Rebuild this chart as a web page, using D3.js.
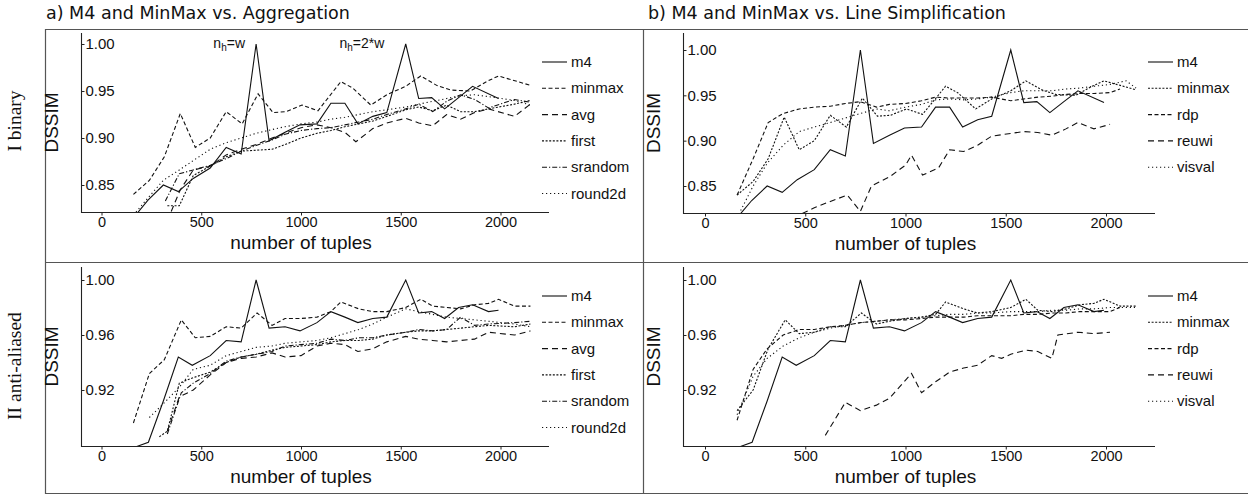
<html>
<head>
  <script src="https://d3js.org/d3.v7.min.js"></script>
  <style>
    body { margin: 0; background: #fff; }
    text { font-family: "Liberation Sans", Arial, sans-serif; fill: #111; }
  </style>
</head>
<body>
<script>

// ---- data ([tuples, DSSIM]) ----
var xTicks = [0, 500, 1000, 1500, 2000];
var yTicksTop = [0.85, 0.90, 0.95, 1.00];
var yTicksBot = [0.92, 0.96, 1.00];

var m4Top = [[160,0.815],[233,0.834],[310,0.850],[385,0.843],[460,0.857],[545,0.868],[625,0.890],[700,0.883],[775,1.000],[840,0.897],[920,0.906],[995,0.914],[1080,0.915],[1150,0.937],[1220,0.937],[1285,0.915],[1360,0.923],[1430,0.927],[1525,1.000],[1590,0.942],[1655,0.943],[1720,0.931],[1790,0.943],[1860,0.955],[1990,0.942]];
var minmaxTop = [[160,0.840],[240,0.855],[315,0.880],[395,0.926],[470,0.890],[545,0.900],[625,0.928],[705,0.915],[785,0.947],[860,0.927],[925,0.928],[1005,0.935],[1085,0.929],[1200,0.960],[1260,0.953],[1350,0.935],[1430,0.946],[1525,0.955],[1600,0.966],[1680,0.956],[1750,0.951],[1850,0.950],[1930,0.960],[1990,0.966],[2150,0.956]];
var avgTop = [[330,0.812],[395,0.845],[460,0.866],[545,0.870],[625,0.882],[700,0.888],[775,0.893],[855,0.900],[920,0.905],[1000,0.911],[1080,0.914],[1150,0.911],[1220,0.906],[1275,0.896],[1360,0.910],[1430,0.916],[1525,0.921],[1590,0.916],[1660,0.913],[1730,0.925],[1800,0.920],[1870,0.927],[1940,0.931],[2070,0.923],[2150,0.936]];
var firstTop = [[330,0.828],[390,0.828],[460,0.860],[545,0.870],[625,0.880],[700,0.886],[775,0.887],[855,0.888],[920,0.893],[1000,0.900],[1080,0.905],[1150,0.908],[1220,0.912],[1290,0.915],[1360,0.918],[1430,0.923],[1525,0.930],[1590,0.933],[1660,0.929],[1730,0.935],[1800,0.928],[1870,0.928],[1940,0.931],[2070,0.936],[2150,0.940]];
var srandomTop = [[320,0.833],[390,0.862],[460,0.866],[545,0.871],[625,0.878],[700,0.886],[775,0.892],[855,0.898],[920,0.904],[1000,0.908],[1080,0.910],[1150,0.911],[1220,0.914],[1290,0.917],[1360,0.920],[1430,0.925],[1525,0.931],[1590,0.936],[1660,0.928],[1730,0.939],[1800,0.946],[1870,0.941],[1940,0.932],[2070,0.941],[2150,0.938]];
var round2dTop = [[160,0.818],[240,0.838],[310,0.855],[390,0.866],[460,0.876],[545,0.888],[625,0.895],[700,0.900],[775,0.905],[855,0.909],[920,0.912],[1000,0.915],[1080,0.917],[1150,0.920],[1220,0.922],[1290,0.925],[1360,0.928],[1430,0.930],[1525,0.933],[1590,0.936],[1660,0.939],[1730,0.942],[1800,0.945],[1870,0.946],[1940,0.944],[2070,0.940],[2150,0.935]];
var rdpTop = [[160,0.840],[240,0.880],[315,0.920],[390,0.930],[470,0.935],[545,0.937],[625,0.938],[700,0.941],[775,0.943],[855,0.937],[920,0.940],[1000,0.941],[1080,0.944],[1150,0.948],[1220,0.947],[1290,0.947],[1360,0.947],[1430,0.948],[1525,0.944],[1590,0.946],[1660,0.948],[1730,0.949],[1800,0.951],[1870,0.952],[1940,0.952],[2020,0.953],[2070,0.957]];
var reuwiTop = [[440,0.815],[545,0.826],[625,0.833],[710,0.840],[775,0.822],[830,0.850],[920,0.860],[1000,0.873],[1030,0.884],[1085,0.862],[1165,0.870],[1220,0.890],[1290,0.888],[1360,0.895],[1430,0.905],[1525,0.908],[1590,0.910],[1660,0.909],[1730,0.906],[1800,0.913],[1860,0.920],[1940,0.913],[2020,0.918]];
var visvalTop = [[160,0.815],[240,0.850],[310,0.875],[390,0.895],[470,0.910],[545,0.915],[625,0.920],[700,0.925],[775,0.930],[855,0.935],[920,0.933],[1000,0.937],[1080,0.940],[1150,0.945],[1220,0.946],[1290,0.945],[1360,0.946],[1430,0.948],[1525,0.953],[1590,0.955],[1660,0.955],[1730,0.955],[1800,0.957],[1870,0.958],[1940,0.960],[2020,0.962],[2100,0.966],[2150,0.958]];

var m4Bot = [[160,0.878],[235,0.882],[310,0.912],[385,0.944],[455,0.938],[545,0.945],[625,0.956],[700,0.955],[775,1.000],[840,0.965],[920,0.966],[995,0.963],[1080,0.969],[1150,0.977],[1220,0.973],[1285,0.969],[1360,0.972],[1430,0.973],[1525,1.000],[1590,0.976],[1655,0.977],[1720,0.972],[1790,0.980],[1860,0.982],[1940,0.977],[1990,0.978]];
var minmaxBot = [[160,0.896],[240,0.932],[315,0.942],[400,0.971],[470,0.958],[545,0.959],[625,0.966],[700,0.965],[780,0.976],[855,0.967],[920,0.972],[1000,0.972],[1080,0.973],[1150,0.977],[1200,0.984],[1290,0.979],[1360,0.977],[1430,0.977],[1525,0.980],[1600,0.986],[1660,0.981],[1730,0.980],[1800,0.979],[1870,0.982],[1940,0.983],[1990,0.986],[2070,0.981],[2150,0.981]];
var avgBot = [[330,0.890],[390,0.915],[460,0.920],[545,0.931],[625,0.940],[700,0.943],[775,0.944],[855,0.947],[920,0.944],[1000,0.945],[1080,0.952],[1150,0.954],[1220,0.953],[1285,0.948],[1360,0.950],[1430,0.955],[1525,0.959],[1590,0.957],[1660,0.956],[1730,0.955],[1800,0.956],[1870,0.957],[1940,0.962],[2070,0.960],[2150,0.963]];
var firstBot = [[290,0.886],[330,0.890],[390,0.925],[460,0.929],[545,0.933],[625,0.940],[700,0.944],[775,0.946],[855,0.949],[920,0.951],[1000,0.952],[1080,0.953],[1150,0.955],[1220,0.956],[1290,0.956],[1360,0.957],[1430,0.960],[1525,0.962],[1590,0.963],[1660,0.963],[1730,0.964],[1800,0.965],[1870,0.966],[1940,0.967],[2070,0.966],[2150,0.968]];
var srandomBot = [[330,0.888],[400,0.918],[460,0.925],[545,0.932],[625,0.941],[700,0.944],[775,0.946],[855,0.948],[920,0.952],[1000,0.953],[1080,0.954],[1150,0.957],[1220,0.956],[1290,0.958],[1360,0.958],[1430,0.960],[1525,0.962],[1590,0.964],[1660,0.963],[1730,0.964],[1800,0.973],[1870,0.967],[1940,0.968],[2070,0.969],[2150,0.970]];
var round2dBot = [[240,0.900],[310,0.910],[390,0.922],[460,0.935],[545,0.938],[625,0.945],[700,0.948],[775,0.951],[855,0.952],[920,0.954],[1000,0.955],[1080,0.956],[1150,0.958],[1220,0.961],[1290,0.964],[1360,0.968],[1430,0.973],[1525,0.979],[1590,0.977],[1660,0.975],[1730,0.973],[1800,0.972],[1870,0.971],[1940,0.970],[2070,0.968],[2150,0.966]];
var minmaxBotB = [[160,0.905],[240,0.920],[315,0.950],[400,0.971],[470,0.961],[545,0.962],[625,0.966],[700,0.966],[780,0.976],[855,0.968],[920,0.970],[1000,0.972],[1080,0.973],[1150,0.975],[1200,0.984],[1290,0.979],[1360,0.976],[1430,0.977],[1525,0.980],[1600,0.986],[1660,0.978],[1730,0.977],[1800,0.979],[1870,0.982],[1940,0.983],[1990,0.986],[2070,0.981],[2150,0.981]];
var rdpBot = [[160,0.898],[240,0.935],[310,0.950],[390,0.960],[470,0.964],[545,0.964],[625,0.966],[700,0.967],[775,0.969],[855,0.970],[920,0.971],[1000,0.971],[1080,0.972],[1150,0.973],[1220,0.973],[1290,0.973],[1360,0.974],[1430,0.974],[1525,0.974],[1590,0.975],[1660,0.975],[1730,0.976],[1800,0.976],[1870,0.977],[1940,0.977],[2020,0.977],[2070,0.980]];
var reuwiBot = [[600,0.887],[700,0.911],[775,0.905],[855,0.909],[920,0.914],[1030,0.932],[1080,0.918],[1150,0.926],[1220,0.933],[1290,0.936],[1360,0.938],[1430,0.945],[1480,0.943],[1525,0.946],[1600,0.949],[1660,0.948],[1730,0.943],[1760,0.960],[1860,0.962],[1940,0.961],[2020,0.962]];
var visvalBot = [[160,0.902],[240,0.930],[310,0.943],[390,0.952],[470,0.958],[545,0.962],[625,0.965],[700,0.967],[775,0.969],[855,0.970],[920,0.971],[1000,0.972],[1080,0.973],[1150,0.974],[1220,0.975],[1290,0.975],[1360,0.976],[1430,0.976],[1525,0.977],[1590,0.977],[1660,0.977],[1730,0.978],[1800,0.978],[1870,0.979],[1940,0.979],[2020,0.980],[2150,0.980]];

var namesA = ['m4', 'minmax', 'avg', 'first', 'srandom', 'round2d'];
var namesB = ['m4', 'minmax', 'rdp', 'reuwi', 'visval'];

// line styles
var dash = {
  solid: null, short: '4,2.5', long: '6,4', fine: '2,1.6', dotdash: '5,2,1.2,2', dots: '1.2,2.8'
};
var stylesA = ['solid', 'short', 'long', 'fine', 'dotdash', 'dots'];
var stylesB = ['solid', 'fine', 'short', 'long', 'dots'];

var width = 1248, height = 496;

var svg = d3.select('body').append('svg')
  .attr('width', width).attr('height', height);

// frame
var frame = svg.append('g').attr('stroke', '#555').attr('stroke-width', 1.2);
frame.append('line').attr('x1', 45).attr('x2', width).attr('y1', 29.5).attr('y2', 29.5);
frame.append('line').attr('x1', 45).attr('x2', width).attr('y1', 262.5).attr('y2', 262.5);
frame.append('line').attr('x1', 45).attr('x2', width).attr('y1', 493.5).attr('y2', 493.5);
frame.append('line').attr('x1', 45.5).attr('x2', 45.5).attr('y1', 29).attr('y2', 494);
frame.append('line').attr('x1', 643.5).attr('x2', 643.5).attr('y1', 29).attr('y2', 494);

svg.append('text').attr('x', 46).attr('y', 19)
  .style('font-family', '"DejaVu Sans", sans-serif').style('font-size', '17.5px')
  .text('a) M4 and MinMax vs. Aggregation');
svg.append('text').attr('x', 648).attr('y', 19)
  .style('font-family', '"DejaVu Sans", sans-serif').style('font-size', '17.5px')
  .text('b) M4 and MinMax vs. Line Simplification');

svg.append('text').attr('transform', 'translate(21,121) rotate(-90)')
  .attr('text-anchor', 'middle')
  .style('font-family', '"Liberation Serif", serif').style('font-size', '19.5px')
  .text('I binary');
svg.append('text').attr('transform', 'translate(21,366) rotate(-90)')
  .attr('text-anchor', 'middle')
  .style('font-family', '"Liberation Serif", serif').style('font-size', '19.5px')
  .text('II anti-aliased');

var panels = [
  { id: 'a1', ax: 81, axEnd: 549, xr: [101.5, 500.5], top: 33, bottom: 212, yd: [0.85, 1.0], yr: [185, 44],
    ticks: yTicksTop, fmt: '.2f', names: namesA, styles: stylesA,
    data: [m4Top, minmaxTop, avgTop, firstTop, srandomTop, round2dTop], note: true },
  { id: 'b1', ax: 683, axEnd: 1155, xr: [705, 1106], top: 33, bottom: 213, yd: [0.85, 1.0], yr: [186, 50],
    ticks: yTicksTop, fmt: '.2f', names: namesB, styles: stylesB,
    data: [m4Top, minmaxTop, rdpTop, reuwiTop, visvalTop] },
  { id: 'a2', ax: 81, axEnd: 549, xr: [101.5, 500.5], top: 267, bottom: 446, yd: [0.92, 1.0], yr: [390, 280],
    ticks: yTicksBot, fmt: '.2f', names: namesA, styles: stylesA,
    data: [m4Bot, minmaxBot, avgBot, firstBot, srandomBot, round2dBot] },
  { id: 'b2', ax: 683, axEnd: 1155, xr: [705, 1106], top: 267, bottom: 446, yd: [0.92, 1.0], yr: [390, 280],
    ticks: yTicksBot, fmt: '.2f', names: namesB, styles: stylesB,
    data: [m4Bot, minmaxBotB, rdpBot, reuwiBot, visvalBot] }
];

panels.forEach(function(p) {
  var x = d3.scaleLinear().domain([0, 2000]).range(p.xr);
  var y = d3.scaleLinear().domain(p.yd).range(p.yr);
  var g = svg.append('g');

  g.append('clipPath').attr('id', 'clip-' + p.id)
    .append('rect').attr('x', p.ax).attr('y', p.top)
    .attr('width', p.axEnd - p.ax).attr('height', p.bottom - p.top);

  var line = d3.line().x(d => x(d[0])).y(d => y(d[1]));

  g.append('g').attr('clip-path', 'url(#clip-' + p.id + ')')
    .selectAll('path').data(p.data).enter().append('path')
    .attr('d', line)
    .attr('fill', 'none')
    .attr('stroke', '#111')
    .attr('stroke-width', 1.1)
    .attr('stroke-dasharray', (d, i) => dash[p.styles[i]]);

  // axes
  g.append('line').attr('x1', p.ax).attr('x2', p.axEnd)
    .attr('y1', p.bottom + 0.5).attr('y2', p.bottom + 0.5)
    .attr('stroke', '#222').attr('stroke-width', 1.1);
  g.append('line').attr('x1', p.ax + 0.5).attr('x2', p.ax + 0.5)
    .attr('y1', p.top).attr('y2', p.bottom + 1)
    .attr('stroke', '#222').attr('stroke-width', 1.1);

  var xa = g.append('g').attr('transform', 'translate(0,' + (p.bottom + 0.5) + ')')
    .call(d3.axisBottom(x).tickValues(xTicks).tickSize(3).tickPadding(1).tickFormat(d3.format('d')));
  xa.select('.domain').remove();
  xa.selectAll('text').style('font-size', '14.5px').style('fill', '#111')
    .style('font-family', '"Liberation Sans", Arial, sans-serif');
  xa.selectAll('line').attr('stroke', '#222');

  var ya = g.append('g').attr('transform', 'translate(' + (p.ax + 0.5) + ',0)')
    .call(d3.axisRight(y).tickValues(p.ticks).tickSize(3).tickPadding(1).tickFormat(d3.format(p.fmt)));
  ya.select('.domain').remove();
  ya.selectAll('text').style('font-size', '15px').style('fill', '#111')
    .style('font-family', '"Liberation Sans", Arial, sans-serif');
  ya.selectAll('line').attr('stroke', '#222');

  g.append('text')
    .attr('transform', 'translate(' + (p.ax - 23) + ',' + ((p.top + p.bottom) / 2) + ') rotate(-90)')
    .attr('text-anchor', 'middle').style('font-size', '19px').text('DSSIM');
  g.append('text').attr('x', x(1000)).attr('y', p.bottom + 37)
    .attr('text-anchor', 'middle').style('font-size', '19px').text('number of tuples');

  // legend
  var leg = g.append('g');
  p.names.forEach(function(name, i) {
    var ly = p.top + 29 + i * 26.3;
    leg.append('line').attr('x1', p.axEnd - 7).attr('x2', p.axEnd + 18)
      .attr('y1', ly).attr('y2', ly)
      .attr('stroke', '#111').attr('stroke-width', 1.1)
      .attr('stroke-dasharray', dash[p.styles[i]]);
    leg.append('text').attr('x', p.axEnd + 22).attr('y', ly + 5)
      .style('font-size', '15px').text(name);
  });

  if (p.note) {
    var t1 = g.append('text').attr('x', x(640)).attr('y', 48).attr('text-anchor', 'middle')
      .style('font-size', '14px');
    t1.append('tspan').text('n');
    t1.append('tspan').attr('dy', 3).style('font-size', '10px').text('h');
    t1.append('tspan').attr('dy', -3).text('=w');
    var t2 = g.append('text').attr('x', x(1305)).attr('y', 48).attr('text-anchor', 'middle')
      .style('font-size', '14px');
    t2.append('tspan').text('n');
    t2.append('tspan').attr('dy', 3).style('font-size', '10px').text('h');
    t2.append('tspan').attr('dy', -3).text('=2*w');
  }
});

</script>
</body>
</html>
